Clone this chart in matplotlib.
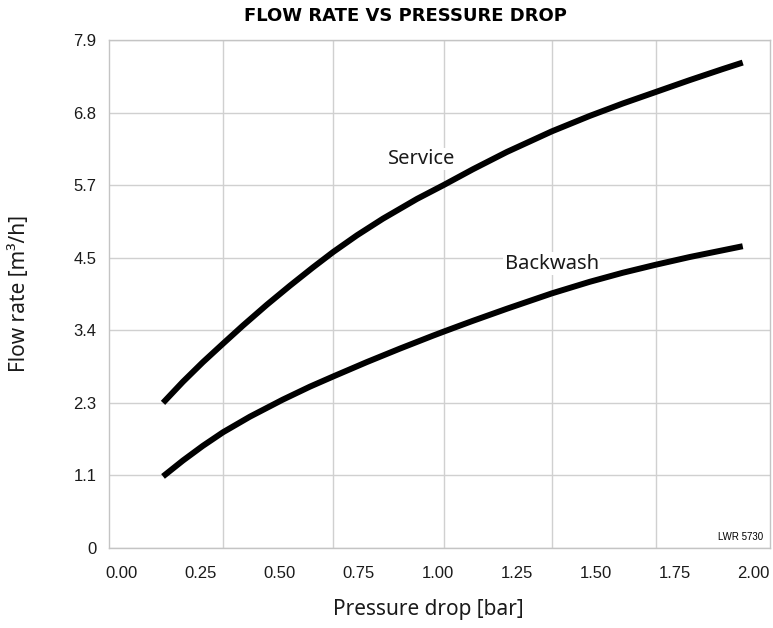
import matplotlib.pyplot as plt

# Werte
pressure_service = [0.130, 0.193, 0.256, 0.320, 0.383, 0.459, 0.532, 0.604, 0.668, 0.744, 0.826,
                    0.934, 1.019, 1.111, 1.218, 1.361, 1.481, 1.585, 1.687, 1.797, 1.902, 1.965]
flow_service = [2.257, 2.585, 2.889, 3.178, 3.459, 3.784, 4.080, 4.361, 4.601, 4.863, 5.121,
                5.429, 5.646, 5.890, 6.158, 6.480, 6.720, 6.912, 7.087, 7.276, 7.449, 7.549]

pressure_backwash = [0.130, 0.193, 0.256, 0.320, 0.405, 0.509, 0.595, 0.668, 0.775, 0.880, 0.984,
                     1.019, 1.070, 1.111, 1.218, 1.361, 1.481, 1.585, 1.687, 1.797, 1.965]
flow_backwash = [1.113, 1.360, 1.588, 1.800, 2.042, 2.307, 2.509, 2.666, 2.891, 3.101, 3.301,
                 3.366, 3.459, 3.533, 3.720, 3.960, 4.140, 4.280, 4.402, 4.525, 4.693]

x_ticks = [0.0, 0.25, 0.5, 0.75, 1.0, 1.25, 1.5, 1.75, 2.0]
x_labels = ["0.00", "0.25", "0.50", "0.75", "1.00", "1.25", "1.50", "1.75", "2.00"]
y_ticks = [0.0, 7.9 / 7, 2 * 7.9 / 7, 3 * 7.9 / 7, 4 * 7.9 / 7, 5 * 7.9 / 7, 6 * 7.9 / 7, 7.9]
y_labels = ["0", "1.1", "2.3", "3.4", "4.5", "5.7", "6.8", "7.9"]
# vertikale Gitterlinien liegen nicht auf den Ticks
x_grid = [0.320, 0.668, 1.019, 1.361, 1.690]

grid_col = "#d0d0d0"
txt_col = "#1a1a1a"

fig = plt.figure(figsize=(7.73, 6.28), dpi=100)
ax = fig.add_axes([0.141, 0.1274, 0.855, 0.8089])

ax.set_xlim(-0.041, 2.051)
ax.set_ylim(0, 7.9)

for y in y_ticks:
    ax.axhline(y, color=grid_col, lw=1.0, zorder=1)
for x in x_grid:
    ax.axvline(x, color=grid_col, lw=1.0, zorder=1)

for px, fy in [(pressure_service, flow_service), (pressure_backwash, flow_backwash)]:
    ax.plot(px, fy, color="black", lw=4.3, solid_capstyle="butt",
            solid_joinstyle="round", zorder=3)

ax.text(0.949, 6.05, "Service", fontsize=14.5, family="Noto Sans", color=txt_col,
        ha="center", va="center", zorder=2,
        bbox=dict(facecolor="white", edgecolor="none", pad=1))
ax.text(1.361, 4.42, "Backwash", fontsize=14.5, family="Noto Sans", color=txt_col,
        ha="center", va="center", zorder=2,
        bbox=dict(facecolor="white", edgecolor="none", pad=1))
ax.text(0.99, 0.012, "LWR 5730", transform=ax.transAxes, fontsize=7,
        family="Liberation Sans", ha="right", va="bottom")

ax.set_xticks(x_ticks)
ax.set_xticklabels(x_labels, family="Liberation Sans", fontsize=12, color=txt_col)
ax.set_yticks(y_ticks)
ax.set_yticklabels(y_labels, family="Liberation Sans", fontsize=12, color=txt_col)
ax.tick_params(axis="x", length=0, pad=13)
ax.tick_params(axis="y", length=0, pad=9)

for s in ax.spines.values():
    s.set_color("#c4c4c4")
    s.set_linewidth(1.0)

ax.set_xlabel("Pressure drop [bar]", family="Noto Sans", fontsize=15, color=txt_col)
ax.xaxis.set_label_coords(0.483, -0.122)
ax.xaxis.label.set_va("center")
ax.set_ylabel("Flow rate [m³/h]", family="Noto Sans", fontsize=15, color=txt_col,
              labelpad=31)
fig.text(0.525, 0.975, "FLOW RATE VS PRESSURE DROP", family="DejaVu Sans",
         fontweight="bold", fontsize=13, ha="center", va="center")

fig.savefig("out.png", dpi=100)
